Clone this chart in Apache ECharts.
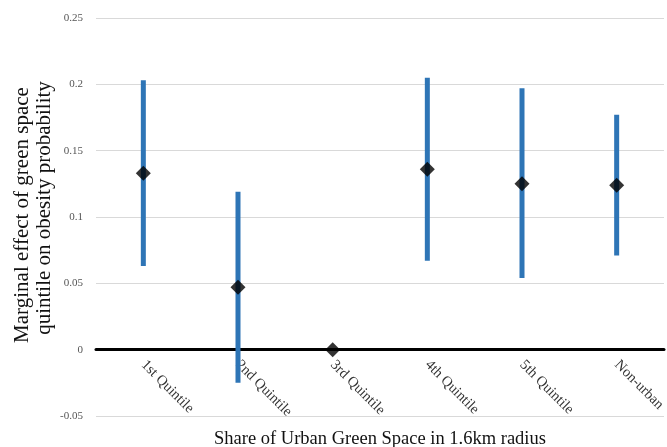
<!DOCTYPE html>
<html>
<head>
<meta charset="utf-8">
<script src="https://cdn.jsdelivr.net/npm/echarts@6/dist/echarts.min.js"></script>
<style>html,body{margin:0;padding:0;background:#fff}#c{width:667px;height:447px}</style>
</head>
<body>
<div id="c"></div>
<script>
var categories = ['1st Quintile', '2nd Quintile', '3rd Quintile', '4th Quintile', '5th Quintile', 'Non-urban'];
var estimates = [0.133, 0.047, 0, 0.136, 0.125, 0.124];
var lowerCI = [0.063, -0.025, null, 0.067, 0.054, 0.071];
var upperCI = [0.203, 0.119, null, 0.205, 0.197, 0.177];
var yTitleLines = ['Marginal effect of green space', 'quintile on obesity probability'];
var xTitle = 'Share of Urban Green Space in 1.6km radius';

var serif = '"Liberation Serif", "DejaVu Serif", serif';
var gridTop = 18, gridBottom = 31, H = 447;
var yMin = -0.05, yMax = 0.25;
// shift x axis up so that it sits on the zero value
var plotH = H - gridTop - gridBottom;
var zeroOffset = -plotH * (0 - yMin) / (yMax - yMin);

var chart = echarts.init(document.getElementById('c'));
chart.setOption({
  animation: false,
  grid: { left: 96, right: 3, top: gridTop, bottom: gridBottom, outerBoundsMode: 'none' },
  graphic: [
    {
      type: 'text', x: 22.5, y: 215, rotation: Math.PI / 2,
      style: { text: yTitleLines[0], font: '21px ' + serif, fill: '#111', align: 'center', verticalAlign: 'middle' }
    },
    {
      type: 'text', x: 44.5, y: 208, rotation: Math.PI / 2,
      style: { text: yTitleLines[1], font: '21px ' + serif, fill: '#111', align: 'center', verticalAlign: 'middle' }
    }
  ],
  xAxis: {
    type: 'category',
    data: categories,
    offset: zeroOffset,
    axisLine: { onZero: false, lineStyle: { color: '#000', width: 3 } },
    axisTick: { show: false },
    axisLabel: { rotate: -45, margin: 13, fontFamily: serif, fontSize: 14.5, color: '#333', interval: 0 },
    name: xTitle,
    nameLocation: 'middle',
    nameGap: 80,
    nameMoveOverlap: false,
    nameTextStyle: { fontFamily: serif, fontSize: 18.5, color: '#111' }
  },
  yAxis: {
    type: 'value',
    min: yMin, max: yMax, interval: 0.05,
    axisLine: { show: false },
    axisTick: { show: false },
    splitLine: { lineStyle: { color: '#d9d9d9', width: 1 } },
    axisLabel: { fontFamily: serif, fontSize: 11, color: '#555', margin: 13 }
  },
  series: [
    {
      type: 'custom',
      data: categories.map(function (c, i) { return [i, lowerCI[i], upperCI[i]]; }),
      renderItem: function (params, api) {
        var lo = api.value(1), hi = api.value(2);
        if (lo == null || hi == null || isNaN(lo) || isNaN(hi)) return null;
        var p1 = api.coord([api.value(0), lo]);
        var p2 = api.coord([api.value(0), hi]);
        return {
          type: 'line',
          shape: { x1: p1[0], y1: p1[1], x2: p2[0], y2: p2[1] },
          style: { stroke: '#2e75b6', lineWidth: 5 }
        };
      },
      encode: { x: 0, y: [1, 2] },
      z: 2
    },
    {
      type: 'scatter',
      data: estimates,
      symbol: 'diamond',
      symbolSize: [15, 15],
      itemStyle: { color: '#000' },
      z: 3
    }
  ]
});
</script>
</body>
</html>
